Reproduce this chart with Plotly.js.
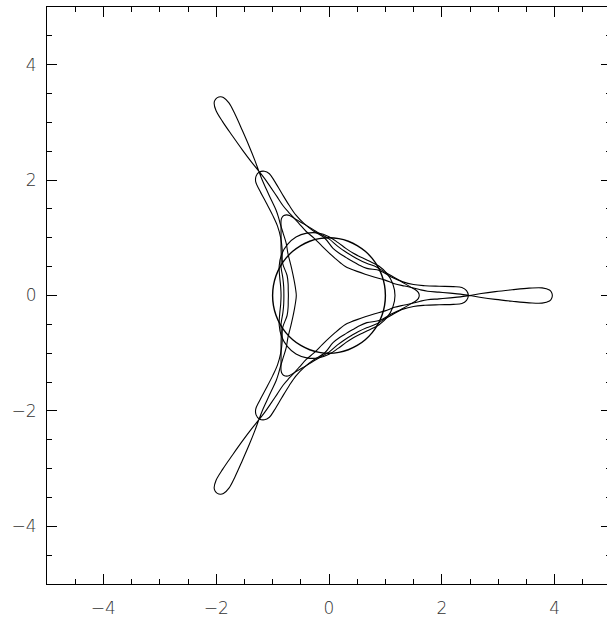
<!DOCTYPE html>
<html>
<head>
<meta charset="utf-8">
<script src="https://cdn.plot.ly/plotly-3.0.1.min.js"></script>
<style>html,body{margin:0;padding:0;overflow:hidden;background:#fff}</style>
</head>
<body>
<div id="chart" style="width:620px;height:621px"></div>
<script>
// Curves, as polar pairs (angle in degrees, radius in data units)
const thetaCircle = [0,10,20,30,40,50,60,70,80,90,100,110,120,130,140,150,160,170,180,190,200,210,220,230,240,250,260,270,280,290,300,310,320,330,340,350,360];
const rCircle = [1,1,1,1,1,1,1,1,1,1,1,1,1,1,1,1,1,1,1,1,1,1,1,1,1,1,1,1,1,1,1,1,1,1,1,1,1];

const thetaA = [-60,-50,-40,-30,-20,-10,0,10,20,30,40,50,60,70,80,90,100,110,120,130,140,150,160,170,180,190,200,210,220,230,240,250,260,270,280,290,300];
const rA = [0.85,0.87,0.93,1.02,1.10,1.15,1.17,1.15,1.10,1.02,0.93,0.87,
            0.85,0.87,0.93,1.02,1.10,1.15,1.17,1.15,1.10,1.02,0.93,0.87,
            0.85,0.87,0.93,1.02,1.10,1.15,1.17,1.15,1.10,1.02,0.93,0.87,0.85];

const thetaB = [-60,-50,-40,-30,-21.8,-15.46,-10.08,-5.71,-3.21,-1.81,0,1.81,3.21,5.71,10.08,15.46,21.8,30,40,50,
                60,70,80,90,98.2,104.54,109.92,114.29,116.79,118.19,120,121.81,123.21,125.71,130.08,135.46,141.8,150,160,170,
                180,190,200,210,218.2,224.54,229.92,234.29,236.79,238.19,240,241.81,243.21,245.71,250.08,255.46,261.8,270,280,290,300];
const rB = [0.80,0.815,0.87,0.981,1.077,1.193,1.320,1.457,1.552,1.586,1.60,1.586,1.552,1.457,1.320,1.193,1.077,0.981,0.87,0.815,
            0.80,0.815,0.87,0.981,1.077,1.193,1.320,1.457,1.552,1.586,1.60,1.586,1.552,1.457,1.320,1.193,1.077,0.981,0.87,0.815,
            0.80,0.815,0.87,0.981,1.077,1.193,1.320,1.457,1.552,1.586,1.60,1.586,1.552,1.457,1.320,1.193,1.077,0.981,0.87,0.815,0.80];

const thetaC = [-60,-52,-45,-35,-25.5,-16.2,-10.5,-7.2,-5.7,-4.7,-4.0,-3.4,-2.0,0,2.0,3.4,4.0,4.7,5.7,7.2,10.5,16.2,25.5,35,45,52,
                60,68,75,85,94.5,103.8,109.5,112.8,114.3,115.3,116,116.6,118,120,122,123.4,124,124.7,125.7,127.2,130.5,136.2,145.5,155,165,172,
                180,188,195,205,214.5,223.8,229.5,232.8,234.3,235.3,236,236.6,238,240,242,243.4,244,244.7,245.7,247.2,250.5,256.2,265.5,275,285,292,300];
const rC = [0.72,0.73,0.75,0.82,1.00,1.15,1.32,1.51,1.71,1.96,2.21,2.36,2.44,2.47,2.44,2.36,2.21,1.96,1.71,1.51,1.32,1.15,1.00,0.82,0.75,0.73,
            0.72,0.73,0.75,0.82,1.00,1.15,1.32,1.51,1.71,1.96,2.21,2.36,2.44,2.47,2.44,2.36,2.21,1.96,1.71,1.51,1.32,1.15,1.00,0.82,0.75,0.73,
            0.72,0.73,0.75,0.82,1.00,1.15,1.32,1.51,1.71,1.96,2.21,2.36,2.44,2.47,2.44,2.36,2.21,1.96,1.71,1.51,1.32,1.15,1.00,0.82,0.75,0.73,0.72];

const thetaD = [-60,-50,-40,-30,-22,-15,-10,-7,-5,-3.5,-2.4,-1.7,-1.1,-0.6,0,0.74,1.32,1.76,2.05,2.01,1.39,0.8,0,-0.8,-1.39,-2.01,-2.05,-1.76,-1.32,-0.74,0,0.6,1.1,1.7,2.4,3.5,5,7,10,15,22,30,40,50,
                60,70,80,90,98,105,110,113,115,116.5,117.6,118.3,118.9,119.4,120,120.74,121.32,121.76,122.05,122.01,121.39,120.8,120,119.2,118.61,117.99,117.95,118.24,118.68,119.26,120,120.6,121.1,121.7,122.4,123.5,125,127,130,135,142,150,160,170,
                180,190,200,210,218,225,230,233,235,236.5,237.6,238.3,238.9,239.4,240,240.74,241.32,241.76,242.05,242.01,241.39,240.8,240,239.2,238.61,237.99,237.95,238.24,238.68,239.26,240,240.6,241.1,241.7,242.4,243.5,245,247,250,255,262,270,280,290,300];
const rD = [0.58,0.60,0.65,0.74,0.86,1.03,1.18,1.35,1.50,1.62,1.75,1.95,2.15,2.33,2.49,2.70,2.95,3.25,3.55,3.78,3.91,3.945,3.96,3.945,3.91,3.78,3.55,3.25,2.95,2.70,2.49,2.33,2.15,1.95,1.75,1.62,1.50,1.35,1.18,1.03,0.86,0.74,0.65,0.60,
            0.58,0.60,0.65,0.74,0.86,1.03,1.18,1.35,1.50,1.62,1.75,1.95,2.15,2.33,2.49,2.70,2.95,3.25,3.55,3.78,3.91,3.945,3.96,3.945,3.91,3.78,3.55,3.25,2.95,2.70,2.49,2.33,2.15,1.95,1.75,1.62,1.50,1.35,1.18,1.03,0.86,0.74,0.65,0.60,
            0.58,0.60,0.65,0.74,0.86,1.03,1.18,1.35,1.50,1.62,1.75,1.95,2.15,2.33,2.49,2.70,2.95,3.25,3.55,3.78,3.91,3.945,3.96,3.945,3.91,3.78,3.55,3.25,2.95,2.70,2.49,2.33,2.15,1.95,1.75,1.62,1.50,1.35,1.18,1.03,0.86,0.74,0.65,0.60,0.58];

const tickVals = [-4,-2,0,2,4];
const tickText = ['\u22124','\u22122','0','2','4'];

const deg = Math.PI / 180;
function curve(th, r, w) {
  return {
    type: 'scatter', mode: 'lines',
    x: th.map((t, i) => r[i] * Math.cos(t * deg)),
    y: th.map((t, i) => r[i] * Math.sin(t * deg)),
    line: {color: '#000', width: w, shape: 'spline', smoothing: 1},
    hoverinfo: 'skip', showlegend: false
  };
}

const data = [
  curve(thetaCircle, rCircle, 1.4),
  curve(thetaA, rA, 1.1),
  curve(thetaB, rB, 1.1),
  curve(thetaC, rC, 1.1),
  curve(thetaD, rD, 1.1)
];

const axisCommon = {
  range: [-5, 5], autorange: false,
  tickmode: 'array', tickvals: tickVals, ticktext: tickText,
  ticks: 'inside', ticklen: 10, tickwidth: 1, tickcolor: '#000',
  minor: {dtick: 0.5, tick0: 0, ticks: 'inside', ticklen: 5, tickwidth: 1, tickcolor: '#000', showgrid: false},
  showline: true, linecolor: '#000', linewidth: 1, mirror: 'ticks',
  showgrid: false, zeroline: false,
  tickfont: {family: 'DejaVu Sans, sans-serif', size: 17, color: '#333', weight: 200}
};

const layout = {
  width: 620, height: 621,
  margin: {l: 47, r: 9, t: 7, b: 37, pad: 0},
  paper_bgcolor: '#fff', plot_bgcolor: '#fff',
  xaxis: Object.assign({}, axisCommon, {ticklabelstandoff: 9}),
  yaxis: Object.assign({}, axisCommon, {ticklabelstandoff: 6}),
  showlegend: false
};

Plotly.newPlot('chart', data, layout, {staticPlot: true, displayModeBar: false});
</script>
</body>
</html>
